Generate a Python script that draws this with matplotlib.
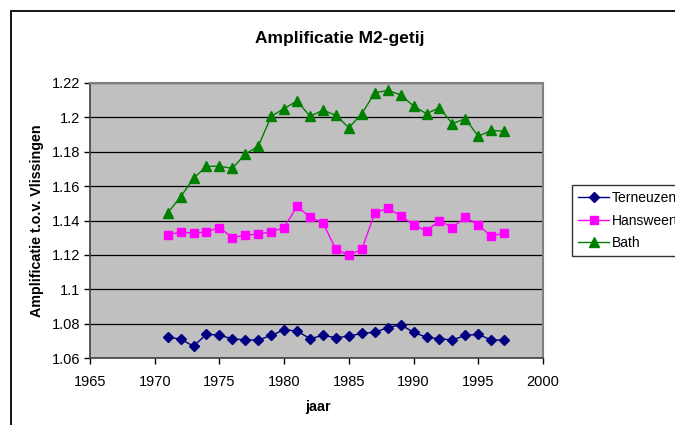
import matplotlib.pyplot as plt
from matplotlib.patches import Rectangle
from matplotlib.ticker import FuncFormatter

plt.rcParams['font.family'] = ['Liberation Sans', 'DejaVu Sans']

years = list(range(1971, 1998))

terneuzen = [1.0722, 1.0712, 1.0670, 1.0741, 1.0733, 1.0714, 1.0706, 1.0706, 1.0733,
             1.0766, 1.0758, 1.0714, 1.0733, 1.0720, 1.0728, 1.0745, 1.0751, 1.0778,
             1.0795, 1.0751, 1.0722, 1.0714, 1.0706, 1.0733, 1.0739, 1.0706, 1.0706]

hansweert = [1.1315, 1.1334, 1.1326, 1.1334, 1.1359, 1.1301, 1.1315, 1.1321, 1.1334,
             1.1359, 1.1483, 1.1419, 1.1386, 1.1232, 1.1199, 1.1232, 1.1444, 1.1471,
             1.1429, 1.1373, 1.1340, 1.1398, 1.1359, 1.1419, 1.1373, 1.1309, 1.1328]

bath = [1.1444, 1.1537, 1.1645, 1.1715, 1.1715, 1.1703, 1.1786, 1.1831, 1.2005,
        1.2050, 1.2094, 1.2005, 1.2040, 1.2011, 1.1939, 1.2020, 1.2141, 1.2155,
        1.2130, 1.2064, 1.2020, 1.2055, 1.1962, 1.1991, 1.1889, 1.1923, 1.1918]

W, H = 675, 425
fig = plt.figure(figsize=(W / 100, H / 100), dpi=100)
ax = fig.add_axes([90 / W, 1 - 358.3 / H, (543 - 90) / W, (358.3 - 82.7) / H])
ax.set_facecolor('#C0C0C0')

ax.plot(years, terneuzen, color='#000080', marker='D', markersize=5, lw=1, label='Terneuzen')
ax.plot(years, hansweert, color='#FF00FF', marker='s', markersize=5.5, lw=1, label='Hansweert')
ax.plot(years, bath, color='#008000', marker='^', markersize=6.5, lw=1, label='Bath')

ax.set_xlim(1965, 2000)
ax.set_ylim(1.06, 1.22)
ax.set_xticks(range(1965, 2001, 5))
ax.set_yticks([1.06 + 0.02 * i for i in range(9)])
ax.yaxis.set_major_formatter(FuncFormatter(lambda v, p: '%g' % round(v, 2)))
ax.yaxis.grid(True, color='black', lw=0.9)
ax.set_axisbelow(True)
ax.tick_params(direction='out', length=4, width=1, labelsize=10.5, colors='black', pad=3)
ax.tick_params(axis='x', pad=8)
for s in ['top', 'right']:
    ax.spines[s].set_color('#808080')
    ax.spines[s].set_linewidth(1.5)
for s in ['left', 'bottom']:
    ax.spines[s].set_color('#404040')
    ax.spines[s].set_linewidth(1.2)

fig.text(340 / W, 1 - 38 / H, 'Amplificatie M2-getij', ha='center', va='center',
         fontsize=12.5, fontweight='bold')
fig.text(37 / W, 1 - 221 / H, 'Amplificatie t.o.v. Vlissingen', ha='center', va='center',
         rotation=90, fontsize=10.3, fontweight='bold')
fig.text(318 / W, 1 - 407 / H, 'jaar', ha='center', va='center', fontsize=10.3, fontweight='bold')

leg = fig.legend(loc='upper left', bbox_to_anchor=(572 / W, 1 - 185 / H), fontsize=10,
                 frameon=True, fancybox=False, edgecolor='black', borderpad=0.45,
                 labelspacing=0.6, handlelength=2.2, handletextpad=0.2, borderaxespad=0)
leg.get_frame().set_linewidth(1)

fig.add_artist(Rectangle((11 / W, -0.2), 2, 1.2 - 10.5 / H, transform=fig.transFigure,
                         fill=False, edgecolor='black', lw=1.3, clip_on=False))

fig.savefig('out.png', dpi=100)
